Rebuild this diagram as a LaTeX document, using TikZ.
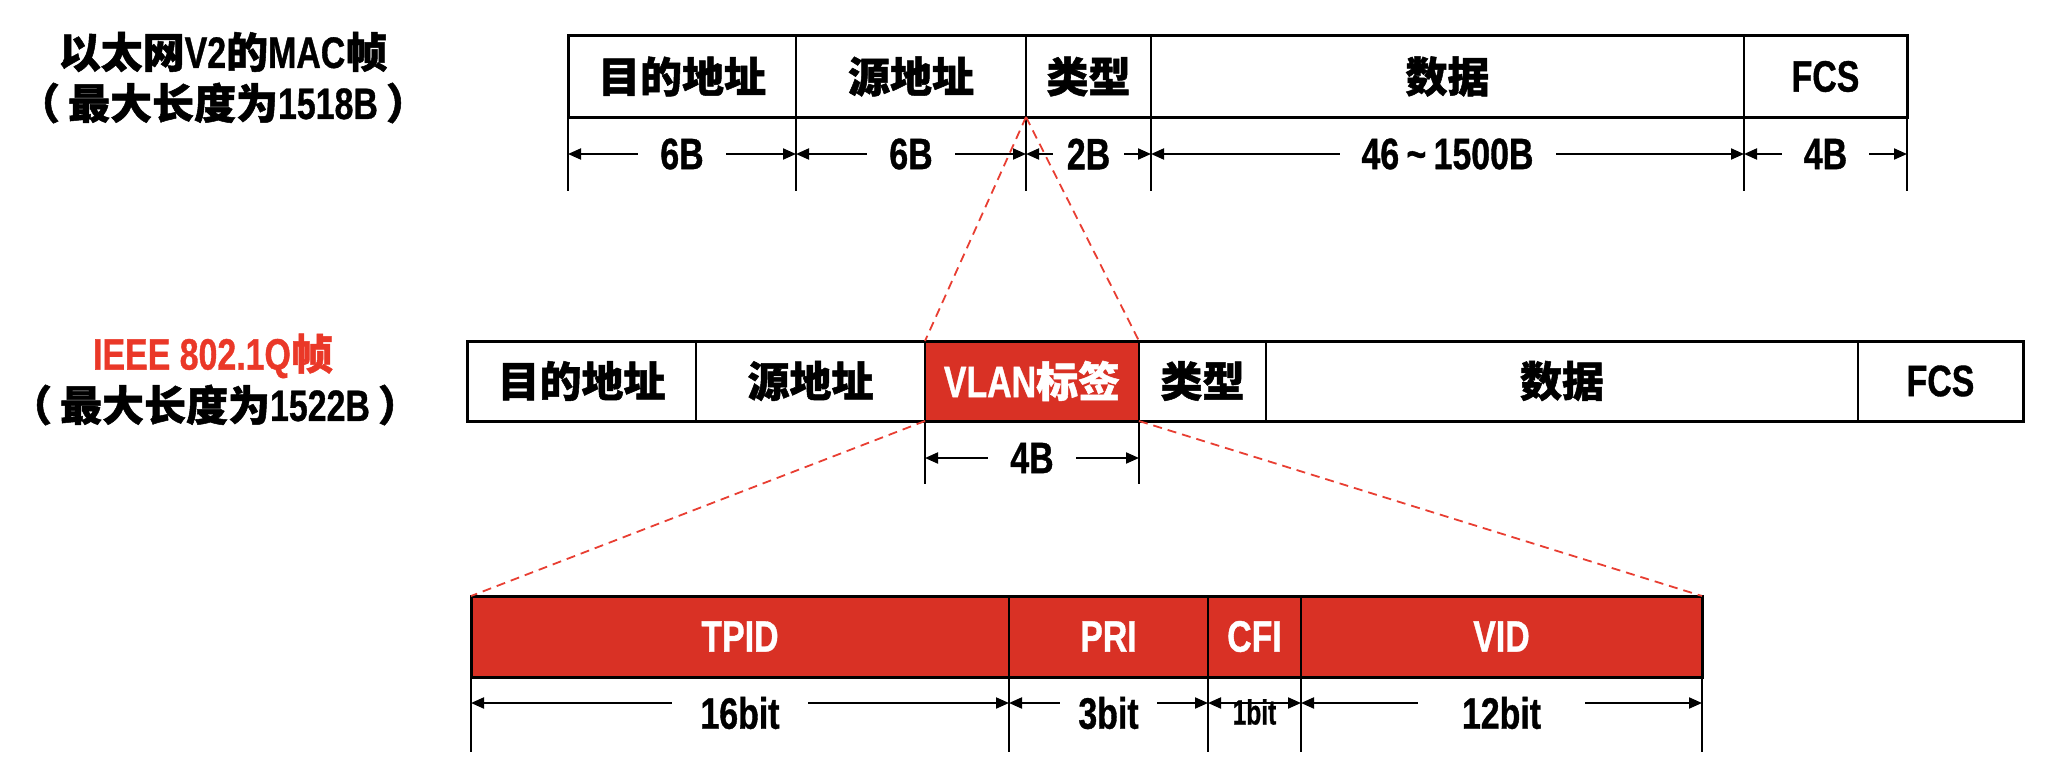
\documentclass[tikz,border=0pt]{standalone}
\usepackage{fontspec}
\usetikzlibrary{arrows.meta}
\newfontfamily\lat{Liberation Sans}[FakeStretch=0.77, FakeBold=0.8]
\newfontfamily\latn{Liberation Sans}[FakeStretch=0.70, FakeBold=0.6]
\newfontfamily\cjk{Noto Sans CJK SC}[FakeBold=1.2]
\newcommand\zh[1]{{\cjk\bfseries\fontsize{42}{46}\selectfont #1}}
\definecolor{tagred}{RGB}{217,49,37}
\definecolor{titlered}{RGB}{234,56,40}
\definecolor{linkred}{RGB}{232,62,50}

\begin{document}
\begin{tikzpicture}[x=1pt,y=-1pt,
  every node/.style={font=\lat\bfseries\fontsize{44}{48}\selectfont, inner sep=0pt},
  cell/.style={draw, line width=2pt, outer sep=0pt, minimum height=81pt, anchor=north west},
  tag/.style={cell, fill=tagred, text=white},
  frame/.style={line width=3pt},
  ext/.style={line width=1.5pt},
  dim/.style={line width=2pt, {Triangle[length=13pt,width=11pt]}-{Triangle[length=13pt,width=11pt]}},
  dimlabel/.style={fill=white, inner xsep=22pt, inner ysep=3pt},
  bitlabel/.style={dimlabel, yshift=-10pt},
  zoomline/.style={linkred, line width=1.8pt, dash pattern=on 9pt off 6pt},
]
\useasboundingbox (0,0) rectangle (2062,768);

% ---- Ethernet V2 frame ----
\node (t1a) at (223,52) {\zh{以太网}V2\zh{的}MAC\zh{帧}};
\node (t1b) at (223,103) {\zh{（}\hspace{8pt}\zh{最大长度为}1518B\hspace{8pt}\zh{）}};

\node[cell, minimum width=228pt] (a1) at (568,36) {\zh{目的地址}};
\node[cell, minimum width=230pt] (a2) at (796,36) {\zh{源地址}};
\node[cell, minimum width=125pt] (a3) at (1026,36) {\zh{类型}};
\node[cell, minimum width=593pt] (a4) at (1151,36) {\zh{数据}};
\node[cell, minimum width=163pt] (a5) at (1744,36) {FCS};
\draw[frame] (a1.north west) rectangle (a5.south east);

\foreach \n in {a1,a2,a3,a4,a5} \draw[ext] (\n.south west) -- ++(0,74);
\draw[ext] (a5.south east) -- ++(0,74);

\foreach \n/\m in {a1/p0,a2/p1,a3/p2,a4/p3,a5/p4}
  \coordinate (\m) at ([yshift=-37pt]\n.south west);
\coordinate (p5) at ([yshift=-37pt]a5.south east);

\draw[dim] (p0) -- (p1) node[midway, dimlabel] (l1) {6B};
\draw[dim] (p1) -- (p2) node[midway, dimlabel] (l2) {6B};
\draw[dim] (p2) -- (p3) node[midway, dimlabel, inner xsep=14pt] (l3) {2B};
\draw[dim] (p3) -- (p4) node[midway, dimlabel] (l4) {46\,\textasciitilde\,1500B};
\draw[dim] (p4) -- (p5) node[midway, dimlabel] (l5) {4B};

% ---- IEEE 802.1Q frame ----
\node[text=titlered] (t2a) at (213,356) {IEEE 802.1Q\zh{帧}};
\node (t2b) at (215,405) {\zh{（}\hspace{8pt}\zh{最大长度为}1522B\hspace{8pt}\zh{）}};

\node[cell, minimum height=80pt, minimum width=229pt] (b1) at (467,341) {\zh{目的地址}};
\node[cell, minimum height=80pt, minimum width=229pt] (b2) at (696,341) {\zh{源地址}};
\node[tag,  minimum height=80pt, minimum width=214pt] (b3) at (925,341) {VLAN\zh{标签}};
\node[cell, minimum height=80pt, minimum width=127pt] (b4) at (1139,341) {\zh{类型}};
\node[cell, minimum height=80pt, minimum width=592pt] (b5) at (1266,341) {\zh{数据}};
\node[cell, minimum height=80pt, minimum width=165pt] (b6) at (1858,341) {FCS};
\draw[frame] (b1.north west) rectangle (b6.south east);

\draw[ext] (b3.south west) -- ++(0,63);
\draw[ext] (b3.south east) -- ++(0,63);
\coordinate (q0) at ([yshift=-37pt]b3.south west);
\coordinate (q1) at ([yshift=-37pt]b3.south east);
\draw[dim] (q0) -- (q1) node[midway, dimlabel] (l6) {4B};

% ---- VLAN tag fields ----
\node[tag, minimum width=538pt] (c1) at (471,596) {TPID};
\node[tag, minimum width=199pt] (c2) at (1009,596) {PRI};
\node[tag, minimum width=93pt]  (c3) at (1208,596) {CFI};
\node[tag, minimum width=401pt] (c4) at (1301,596) {VID};
\draw[frame] (c1.north west) rectangle (c4.south east);

\foreach \n in {c1,c2,c3,c4} \draw[ext] (\n.south west) -- ++(0,75);
\draw[ext] (c4.south east) -- ++(0,75);

\foreach \n/\m in {c1/r0,c2/r1,c3/r2,c4/r3}
  \coordinate (\m) at ([yshift=-26pt]\n.south west);
\coordinate (r4) at ([yshift=-26pt]c4.south east);

\draw[dim] (r0) -- (r1) node[midway, bitlabel, inner xsep=28pt] (l7) {16bit};
\draw[dim] (r1) -- (r2) node[midway, bitlabel, inner xsep=18pt] (l8) {3bit};
\draw[dim] (r2) -- (r3) node[midway, yshift=-9pt, font=\latn\bfseries\fontsize{35}{38}\selectfont] (l9) {1bit};
\draw[dim] (r3) -- (r4) node[midway, bitlabel, inner xsep=44pt] (l10) {12bit};

% ---- zoom-in guides ----
\draw[zoomline] (a3.south west) -- (b3.north west);
\draw[zoomline] (a3.south west) -- (b3.north east);
\draw[zoomline] (b3.south west) -- (c1.north west);
\draw[zoomline] (b3.south east) -- (c4.north east);
\end{tikzpicture}
\end{document}
